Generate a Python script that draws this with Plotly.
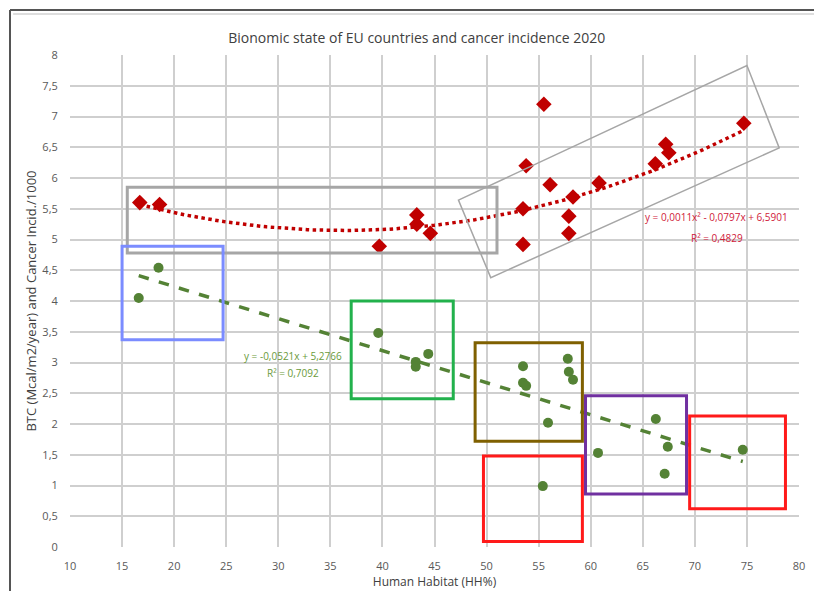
import numpy as np
import plotly.graph_objects as go

# Human Habitat (HH%) per country
hh_cancer = [16.7, 18.6, 39.7, 43.3, 43.3, 44.6, 53.5, 53.5, 53.8, 55.5,
             56.1, 57.9, 57.9, 58.3, 60.8, 66.2, 67.2, 67.5, 74.7]
cancer_incid = [5.60, 5.57, 4.89, 5.40, 5.25, 5.10, 5.50, 4.92, 6.20, 7.20,
                5.89, 5.38, 5.10, 5.69, 5.92, 6.23, 6.55, 6.41, 6.89]

hh_btc = [16.6, 18.5, 39.6, 43.2, 43.2, 44.4, 53.5, 53.5, 53.8, 55.4,
          55.9, 57.8, 57.9, 58.3, 60.7, 66.25, 67.1, 67.4, 74.6]
btc = [4.05, 4.54, 3.48, 3.01, 2.93, 3.14, 2.94, 2.67, 2.62, 0.99,
       2.02, 3.06, 2.85, 2.72, 1.53, 2.08, 1.19, 1.63, 1.58]

# Trendline coefficients (highest power first)
cancer_poly = [0.0011, -0.0797, 6.5901]
cancer_r2 = "0,4829"
btc_lin = [-0.0521, 5.2766]
btc_r2 = "0,7092"

x_ticks = list(range(10, 81, 5))
y_ticks = [i * 0.5 for i in range(17)]
y_ticktext = [("%g" % v).replace(".", ",") for v in y_ticks]

title = "Bionomic state of EU countries and cancer incidence 2020"
x_title = "Human Habitat (HH%)"
y_title = "BTC (Mcal/m2/year) and Cancer Incid./1000"

RED = "#c00000"
GREEN = "#548235"
FONT = "Open Sans, sans-serif"

fig = go.Figure()

# trendlines
xc = np.linspace(min(hh_cancer), max(hh_cancer), 120)
fig.add_trace(go.Scatter(x=xc, y=np.polyval(cancer_poly, xc), mode="lines",
                         line=dict(color=RED, width=3.5, dash="dot"),
                         hoverinfo="skip", showlegend=False))
xb = np.array([min(hh_btc), max(hh_btc)])
fig.add_trace(go.Scatter(x=xb, y=np.polyval(btc_lin, xb), mode="lines",
                         line=dict(color=GREEN, width=3.5, dash="dash"),
                         hoverinfo="skip", showlegend=False))

fig.add_trace(go.Scatter(x=hh_cancer, y=cancer_incid, mode="markers",
                         marker=dict(symbol="diamond", size=12, color=RED),
                         name="Cancer incidence", showlegend=False))
fig.add_trace(go.Scatter(x=hh_btc, y=btc, mode="markers",
                         marker=dict(symbol="circle", size=10, color=GREEN),
                         name="BTC", showlegend=False))


def fmt(v):
    return ("%.4f" % abs(v)).replace(".", ",")


eq_cancer = ("y = %sx² - %sx + %s"
             % (fmt(cancer_poly[0]), fmt(cancer_poly[1]), fmt(cancer_poly[2])))
eq_btc = "y = -%sx + %s" % (fmt(btc_lin[0]), fmt(btc_lin[1]))

EQ_RED = "#d0203a"
EQ_GREEN = "#6a9a3a"
annotations = [
    dict(x=72.1, y=5.37, xref="x", yref="y", text=eq_cancer, showarrow=False,
         font=dict(family=FONT, size=10, color=EQ_RED)),
    dict(x=72.1, y=5.03, xref="x", yref="y", text="R² = " + cancer_r2, showarrow=False,
         font=dict(family=FONT, size=10, color=EQ_RED)),
    dict(x=31.4, y=3.11, xref="x", yref="y", text=eq_btc, showarrow=False,
         font=dict(family=FONT, size=10, color=EQ_GREEN)),
    dict(x=31.4, y=2.83, xref="x", yref="y", text="R² = " + btc_r2, showarrow=False,
         font=dict(family=FONT, size=10, color=EQ_GREEN)),
]


def rect(x0, x1, y0, y1, color, width=3):
    return dict(type="rect", xref="x", yref="y", x0=x0, x1=x1, y0=y0, y1=y1,
                line=dict(color=color, width=width), fillcolor="rgba(0,0,0,0)")


shapes = [
    rect(15.5, 51.0, 4.78, 5.85, "#a6a6a6"),
    rect(15.0, 24.7, 3.37, 4.89, "#7b8cff"),
    rect(37.0, 46.8, 2.41, 4.00, "#22b14c"),
    rect(48.9, 59.2, 1.72, 3.32, "#7f6000"),
    rect(49.7, 59.2, 0.09, 1.48, "#ff1a1a"),
    rect(59.5, 69.2, 0.86, 2.46, "#7030a0"),
    rect(69.5, 78.7, 0.62, 2.13, "#ff1a1a"),
    # tilted box around the upper cluster
    dict(type="path", xref="x", yref="y",
         path="M 47.3,5.64 L 75.0,7.83 L 78.1,6.49 L 50.4,4.38 Z",
         line=dict(color="#a6a6a6", width=1.5)),
    # outer chart frame
    dict(type="line", xref="paper", yref="paper", x0=-0.0823, x1=1.03,
         y0=1.0915, y1=1.0915, line=dict(color="#555555", width=2)),
    dict(type="line", xref="paper", yref="paper", x0=-0.0823, x1=-0.0823,
         y0=1.0915, y1=-0.1, line=dict(color="#555555", width=2)),
    dict(type="line", xref="paper", yref="paper", x0=-0.078, x1=1.03,
         y0=1.0833, y1=1.0833, line=dict(color="#dddddd", width=2)),
]

axis_common = dict(showgrid=True, gridcolor="#cfcfcf", gridwidth=1.5,
                   zeroline=False, showline=False, automargin=False,
                   ticks="outside", ticklen=9, tickcolor="rgba(0,0,0,0)",
                   tickfont=dict(family=FONT, size=11, color="#595959"))

fig.update_layout(
    width=814, height=591,
    margin=dict(l=70, r=15, t=55, b=44),
    paper_bgcolor="white", plot_bgcolor="white",
    title=dict(text=title, x=0.512, xanchor="center", y=0.935, yanchor="middle",
               font=dict(family=FONT, size=14, color="#404040")),
    xaxis=dict(range=[10, 80], tickvals=x_ticks, ticktext=[str(t) for t in x_ticks],
               title=dict(text=x_title, standoff=4,
                          font=dict(family=FONT, size=12, color="#404040")),
               **axis_common),
    yaxis=dict(range=[0, 8], tickvals=y_ticks, ticktext=y_ticktext,
               title=dict(text=y_title, standoff=2,
                          font=dict(family=FONT, size=13, color="#404040")),
               **axis_common),
    annotations=annotations,
    shapes=shapes,
)

fig.write_html("out.html")
